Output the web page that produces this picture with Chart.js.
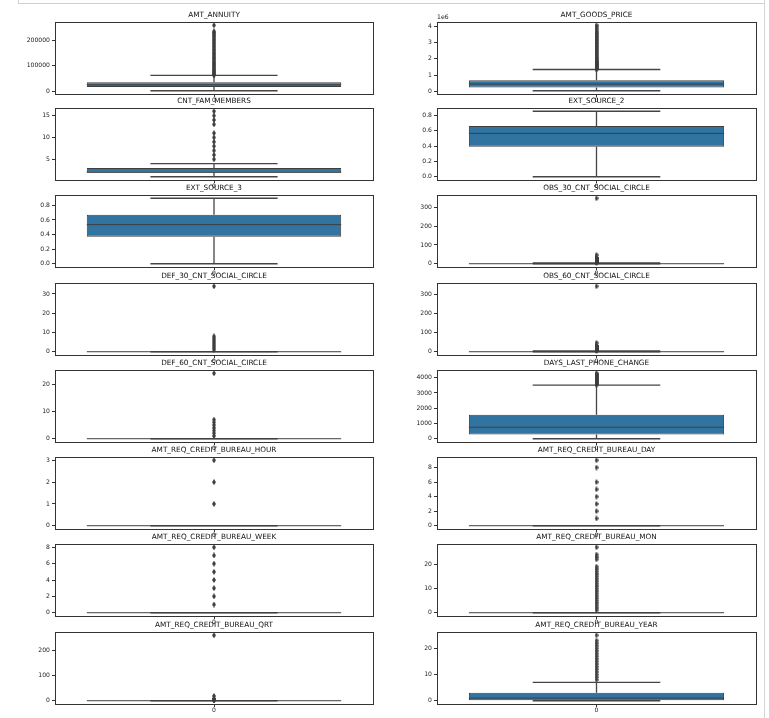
<!DOCTYPE html>
<html>
<head>
<meta charset="utf-8">
<title>boxplots</title>
<script src="https://cdn.jsdelivr.net/npm/chart.js@4.4.1/dist/chart.umd.min.js"></script>
<style>
  html, body { margin: 0; padding: 0; background: #fff; }
  body { width: 769px; height: 718px; position: relative; overflow: hidden; }
  canvas { position: absolute; }
  .cellbox { position: absolute; left: 18px; top: -10px; width: 747px; height: 14px; box-sizing: border-box; border: 1px solid #d0d0d0; }
  .edge { position: absolute; left: 764px; top: 0; width: 1px; height: 718px; background: #d6d6d6; }
</style>
</head>
<body>
<div class="cellbox"></div>
<div class="edge"></div>
<script>
// one box per column of the frame, row-major (left, right)
const titles = [
    "AMT_ANNUITY", "AMT_GOODS_PRICE",
    "CNT_FAM_MEMBERS", "EXT_SOURCE_2",
    "EXT_SOURCE_3", "OBS_30_CNT_SOCIAL_CIRCLE",
    "DEF_30_CNT_SOCIAL_CIRCLE", "OBS_60_CNT_SOCIAL_CIRCLE",
    "DEF_60_CNT_SOCIAL_CIRCLE", "DAYS_LAST_PHONE_CHANGE",
    "AMT_REQ_CREDIT_BUREAU_HOUR", "AMT_REQ_CREDIT_BUREAU_DAY",
    "AMT_REQ_CREDIT_BUREAU_WEEK", "AMT_REQ_CREDIT_BUREAU_MON",
    "AMT_REQ_CREDIT_BUREAU_QRT", "AMT_REQ_CREDIT_BUREAU_YEAR"
];

const q1 = [16524, 238500, 2, 0.3925, 0.3706, 0, 0, 0, 0, 274, 0, 0, 0, 0, 0, 0];
const medians = [24903, 450000, 2, 0.566, 0.5353, 0, 0, 0, 0, 757, 0, 0, 0, 0, 0, 1];
const q3 = [34596, 679500, 3, 0.6636, 0.6691, 2, 0, 2, 0, 1570, 0, 0, 0, 0, 0, 3];
const whiskerLo = [1615, 40500, 1, 0.0001, 0.0005, 0, 0, 0, 0, 0, 0, 0, 0, 0, 0, 0];
const whiskerHi = [61704, 1341000, 4, 0.855, 0.896, 5, 0, 5, 0, 3514, 0, 0, 0, 0, 0, 7];

const outliers = [
    [61800, 64500, 67000, 70500, 74000, 77500, 81000, 85000, 89000, 93000, 97500, 102000,
     106500, 111000, 115500, 120000, 125000, 130000, 135000, 140000, 145000, 150000, 155500,
     161000, 166500, 172000, 177500, 183000, 188500, 194000, 199500, 205000, 210500, 216000,
     221500, 226500, 230000, 234000, 258025],
    [1350000, 1395000, 1440000, 1485000, 1530000, 1575000, 1620000, 1665000, 1710000, 1755000,
     1800000, 1854000, 1935000, 2007000, 2070000, 2160000, 2250000, 2340000, 2430000, 2520000,
     2610000, 2700000, 2790000, 2880000, 2970000, 3060000, 3150000, 3240000, 3330000, 3420000,
     3510000, 3600000, 3690000, 3825000, 3960000, 4050000],
    [5, 6, 7, 8, 9, 10, 11, 13, 14, 15, 16],
    [],
    [],
    [6, 7, 8, 9, 10, 11, 12, 13, 14, 15, 16, 17, 18, 19, 20, 21, 22, 23, 24, 25, 26, 27, 28, 29, 30, 47, 348],
    [1, 2, 3, 4, 5, 6, 7, 8, 34],
    [6, 7, 8, 9, 10, 11, 12, 13, 14, 15, 16, 17, 18, 19, 20, 21, 22, 23, 24, 25, 26, 27, 28, 29, 30, 47, 344],
    [1, 2, 3, 4, 5, 6, 7, 24],
    [3530, 3580, 3630, 3680, 3730, 3780, 3830, 3880, 3930, 3980, 4030, 4080, 4130, 4180, 4230, 4292],
    [1, 2, 3],
    [1, 2, 3, 4, 5, 6, 8, 9],
    [1, 2, 3, 4, 5, 6, 7, 8],
    [1, 2, 3, 4, 5, 6, 7, 8, 9, 10, 11, 12, 13, 14, 15, 16, 17, 18, 19, 22, 23, 24, 27],
    [1, 2, 3, 4, 5, 6, 7, 8, 19, 261],
    [8, 9, 10, 11, 12, 13, 14, 15, 16, 17, 18, 19, 20, 21, 22, 23, 25]
];

const yTicks = [
    [0, 100000, 200000], [0, 1e6, 2e6, 3e6, 4e6],
    [5, 10, 15], [0, 0.2, 0.4, 0.6, 0.8],
    [0, 0.2, 0.4, 0.6, 0.8], [0, 100, 200, 300],
    [0, 10, 20, 30], [0, 100, 200, 300],
    [0, 10, 20], [0, 1000, 2000, 3000, 4000],
    [0, 1, 2, 3], [0, 2, 4, 6, 8],
    [0, 2, 4, 6, 8], [0, 10, 20],
    [0, 100, 200], [0, 10, 20]
];
const yTickLabels = [
    ["0", "100000", "200000"], ["0", "1", "2", "3", "4"],
    ["5", "10", "15"], ["0.0", "0.2", "0.4", "0.6", "0.8"],
    ["0.0", "0.2", "0.4", "0.6", "0.8"], ["0", "100", "200", "300"],
    ["0", "10", "20", "30"], ["0", "100", "200", "300"],
    ["0", "10", "20"], ["0", "1000", "2000", "3000", "4000"],
    ["0", "1", "2", "3"], ["0", "2", "4", "6", "8"],
    ["0", "2", "4", "6", "8"], ["0", "10", "20"],
    ["0", "100", "200"], ["0", "10", "20"]
];
const offsetTexts = ["", "1e6", "", "", "", "", "", "", "", "", "", "", "", "", "", ""];
const xLabels = ["0"];

// layout of the grid (pixels)
const panelTops = [22, 108, 195, 283, 370, 457, 544, 632];
const PANEL_H = 72, HEAD_H = 14, FOOT_H = 12;
const columns = [
    { left: 0, width: 384, axisW: 55, padRight: 11 },
    { left: 384, width: 385, axisW: 53, padRight: 13 }
];

const BOX_BLUE = "#3274a1";
const LINE_GRAY = "#3f3f3f";
const FRAME = "#333333";
const TEXT = "#222222";
const TICK_FONT = { family: "DejaVu Sans", size: 6.1 };

Chart.defaults.font.family = "DejaVu Sans";

// thin diamond used for the fliers
const marker = document.createElement("canvas");
marker.width = 4;
marker.height = 6;
const mctx = marker.getContext("2d");
mctx.fillStyle = LINE_GRAY;
mctx.beginPath();
mctx.moveTo(2, 0);
mctx.lineTo(4, 3);
mctx.lineTo(2, 6);
mctx.lineTo(0, 3);
mctx.closePath();
mctx.fill();

// "1e6" style offset label above the y axis
const offsetTextPlugin = {
    id: "offsetText",
    afterDraw(chart, args, opts) {
        if (!opts.text) return;
        const { ctx, chartArea } = chart;
        ctx.save();
        ctx.font = '6.1px "DejaVu Sans"';
        ctx.fillStyle = TEXT;
        ctx.textAlign = "left";
        ctx.textBaseline = "bottom";
        ctx.fillText(opts.text, chartArea.left, chartArea.top - 1.5);
        ctx.restore();
    }
};

function frameAxis(position) {
    return {
        type: "linear",
        position: position,
        display: true,
        offset: false,
        ticks: { display: false },
        grid: { display: false, drawTicks: false },
        border: { display: true, color: FRAME, width: 1 },
        afterFit: (scale) => {
            if (scale.isHorizontal()) scale.height = 0; else scale.width = 0;
        }
    };
}

titles.forEach((title, i) => {
    const row = Math.floor(i / 2);
    const col = columns[i % 2];

    const canvas = document.createElement("canvas");
    canvas.width = col.width;
    canvas.height = HEAD_H + PANEL_H + FOOT_H;
    canvas.style.left = col.left + "px";
    canvas.style.top = (panelTops[row] - HEAD_H) + "px";
    document.body.appendChild(canvas);

    // matplotlib style autoscale: data range plus 5% each side
    const lowAll = Math.min(whiskerLo[i], q1[i], ...outliers[i]);
    const highAll = Math.max(whiskerHi[i], q3[i], ...outliers[i]);
    const margin = (highAll - lowAll) * 0.05;

    const lo = whiskerLo[i], hi = whiskerHi[i];
    const whiskers = [
        { x: 0, y: q3[i] }, { x: 0, y: hi }, { x: 0, y: null },
        { x: -0.2, y: hi }, { x: 0.2, y: hi }, { x: 0, y: null },
        { x: 0, y: q1[i] }, { x: 0, y: lo }, { x: 0, y: null },
        { x: -0.2, y: lo }, { x: 0.2, y: lo }
    ];

    const config = {
        type: "bar",
        data: {
            labels: xLabels,
            datasets: [
                {
                    type: "line",
                    xAxisID: "x",
                    yAxisID: "y",
                    data: outliers[i].map(v => ({ x: 0, y: v })),
                    showLine: false,
                    pointStyle: marker,
                    pointRadius: 3,
                    pointHoverRadius: 3
                },
                {
                    type: "line",
                    xAxisID: "x",
                    yAxisID: "y",
                    data: [{ x: -0.4, y: medians[i] }, { x: 0.4, y: medians[i] }],
                    borderColor: LINE_GRAY,
                    borderWidth: 1,
                    pointRadius: 0,
                    fill: false
                },
                {
                    type: "bar",
                    xAxisID: "xc",
                    yAxisID: "y",
                    data: [[q1[i], q3[i]]],
                    backgroundColor: BOX_BLUE,
                    borderColor: LINE_GRAY,
                    borderWidth: 1,
                    borderSkipped: false,
                    grouped: false,
                    categoryPercentage: 0.8,
                    barPercentage: 1.0
                },
                {
                    type: "line",
                    xAxisID: "x",
                    yAxisID: "y",
                    data: whiskers,
                    borderColor: "#454545",
                    borderWidth: 1.3,
                    pointRadius: 0,
                    spanGaps: false,
                    fill: false
                }
            ]
        },
        options: {
            responsive: false,
            animation: false,
            layout: { padding: { left: 0, right: col.padRight, top: 0, bottom: 0 } },
            plugins: {
                legend: { display: false },
                tooltip: { enabled: false },
                title: {
                    display: true,
                    text: title,
                    fullSize: false,
                    color: "#111111",
                    font: { family: "DejaVu Sans", size: 7.3, weight: "normal" },
                    padding: { top: 3, bottom: 2.24 }
                },
                offsetText: { text: offsetTexts[i] }
            },
            scales: {
                x: { type: "linear", display: false, offset: false, min: -0.5, max: 0.5 },
                xc: {
                    type: "category",
                    position: "bottom",
                    labels: xLabels,
                    offset: true,
                    ticks: { color: TEXT, font: TICK_FONT, padding: 0, maxRotation: 0 },
                    grid: { drawOnChartArea: false, drawTicks: true, tickLength: 3, tickColor: FRAME, offset: false },
                    border: { display: true, color: FRAME, width: 1 },
                    afterFit: (scale) => { scale.height = FOOT_H; }
                },
                xt: frameAxis("top"),
                yr: frameAxis("right"),
                y: {
                    type: "linear",
                    position: "left",
                    min: lowAll - margin,
                    max: highAll + margin,
                    afterBuildTicks: (scale) => {
                        scale.ticks = yTicks[i].map(v => ({ value: v }));
                    },
                    ticks: {
                        color: TEXT,
                        font: TICK_FONT,
                        padding: 2,
                        callback: (value, index) => yTickLabels[i][index]
                    },
                    grid: { drawOnChartArea: false, drawTicks: true, tickLength: 3, tickColor: FRAME },
                    border: { display: true, color: FRAME, width: 1 },
                    afterFit: (scale) => { scale.width = col.axisW; }
                }
            }
        },
        plugins: [offsetTextPlugin]
    };

    new Chart(canvas, config);
});
</script>
</body>
</html>
